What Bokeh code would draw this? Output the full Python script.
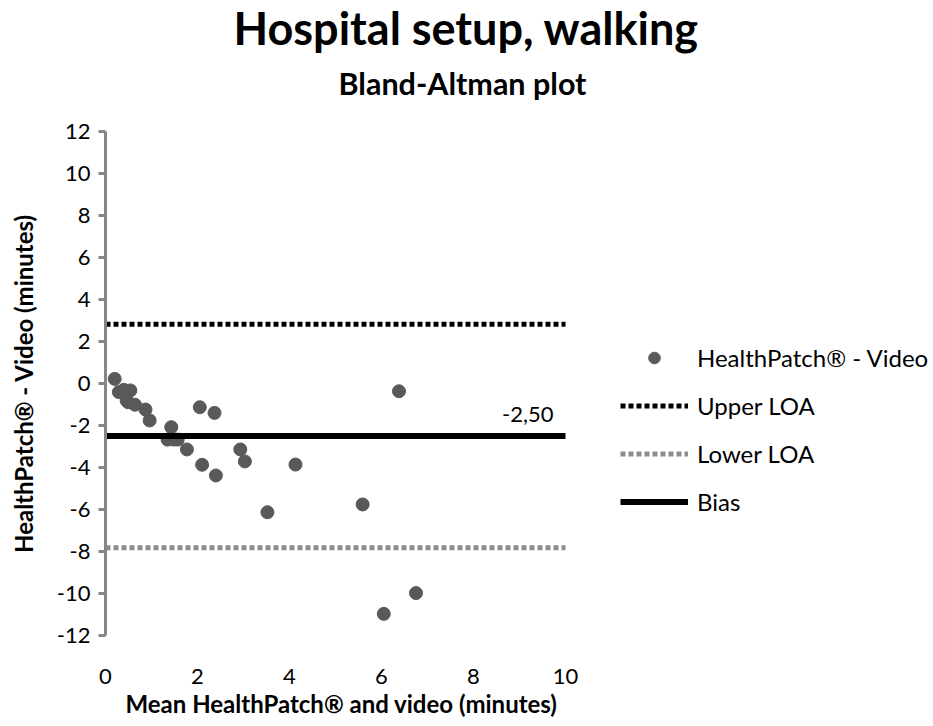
from bokeh.plotting import figure
from bokeh.models import Range1d, FixedTicker, Label, Legend, LegendItem, Title
from bokeh.embed import file_html
from bokeh.resources import INLINE

# ---------------- data ----------------
MEAN = [0.20, 0.29, 0.40, 0.54, 0.46, 0.49, 0.64, 0.87, 0.96, 1.43, 1.35, 1.48, 1.57,
        1.77, 2.05, 2.37, 2.10, 2.40, 2.93, 3.03, 4.13, 3.52, 5.59, 6.05, 6.75, 6.38]
DIFF = [0.22, -0.41, -0.30, -0.33, -0.81, -0.89, -1.01, -1.24, -1.76, -2.08, -2.67, -2.67, -2.67,
        -3.14, -1.13, -1.40, -3.87, -4.38, -3.14, -3.71, -3.86, -6.13, -5.76, -10.97, -9.98, -0.37]
BIAS = -2.50
UPPER_LOA = 2.82
LOWER_LOA = -7.82
X_LIMITS = [0, 10]
Y_LIMITS = [-12, 12]
X_TICKS = [0, 2, 4, 6, 8, 10]
Y_TICKS = [-12, -10, -8, -6, -4, -2, 0, 2, 4, 6, 8, 10, 12]
Y_TICK_LABELS = ["-12", "-10", "-8", "-6", "-4", "-2", "0", "2", "4", "6", "8", "10", "12"]
TITLE = "Hospital setup, walking"
SUBTITLE = "Bland-Altman plot"
X_LABEL = "Mean HealthPatch\u00ae and video (minutes)"
Y_LABEL = "HealthPatch\u00ae - Video (minutes)"
SERIES_NAMES = ["HealthPatch\u00ae - Video", "Upper LOA", "Lower LOA", "Bias"]

# ---------------- layout ----------------
FONT = "Lato"
W, H = 933, 726
FL, FT, FB = 105, 131, 635          # frame left / top / bottom (pixels)
X_END_PX = 565                      # pixel where x = X_LIMITS[1]
# the frame runs to the right edge so the legend can sit inside it
X_RANGE_END = X_LIMITS[0] + (X_LIMITS[1] - X_LIMITS[0]) * (W - FL) / (X_END_PX - FL)


def px_x(px):
    return X_LIMITS[0] + (px - FL) * (X_LIMITS[1] - X_LIMITS[0]) / (X_END_PX - FL)


def px_y(py):
    return Y_LIMITS[1] - (py - FT) * (Y_LIMITS[1] - Y_LIMITS[0]) / (FB - FT)


p = figure(width=W, height=H,
           x_range=Range1d(X_LIMITS[0], X_RANGE_END), y_range=Range1d(*Y_LIMITS),
           output_backend="svg", toolbar_location=None,
           min_border_left=FL, min_border_right=0,
           min_border_top=FT, min_border_bottom=H - FB)
p.xgrid.visible = False
p.ygrid.visible = False
p.outline_line_color = None
p.background_fill_color = "white"
p.border_fill_color = "white"

AXIS_GRAY = "#868686"

# y axis
p.yaxis.ticker = FixedTicker(ticks=Y_TICKS)
p.yaxis.major_label_overrides = {t: s for t, s in zip(Y_TICKS, Y_TICK_LABELS)}
p.yaxis.axis_line_color = AXIS_GRAY
p.yaxis.axis_line_width = 3
p.yaxis.major_tick_line_color = AXIS_GRAY
p.yaxis.major_tick_line_width = 3
p.yaxis.major_tick_out = 7
p.yaxis.major_tick_in = 0
p.yaxis.minor_tick_line_color = None
p.yaxis.major_label_standoff = 8
p.yaxis.major_label_text_font = FONT
p.yaxis.major_label_text_font_size = "22px"
p.yaxis.major_label_text_color = "black"
p.yaxis.axis_label = Y_LABEL
p.yaxis.axis_label_text_font = FONT
p.yaxis.axis_label_text_font_size = "24px"
p.yaxis.axis_label_text_font_style = "bold"
p.yaxis.axis_label_text_color = "black"
p.yaxis.axis_label_standoff = 16

# x axis (no line, no ticks, labels only)
p.xaxis.ticker = FixedTicker(ticks=X_TICKS)
p.xaxis.axis_line_color = None
p.xaxis.major_tick_line_color = None
p.xaxis.minor_tick_line_color = None
p.xaxis.major_tick_out = 0
p.xaxis.major_tick_in = 0
p.xaxis.major_label_standoff = 33
p.xaxis.major_label_text_font = FONT
p.xaxis.major_label_text_font_size = "22px"
p.xaxis.major_label_text_color = "black"

# x-axis title, left-aligned under the plotted x span
p.add_layout(Title(text=X_LABEL, align="left", offset=125 - FL, vertical_align="bottom",
                   text_font=FONT, text_font_size="24px", text_font_style="bold",
                   text_color="black", standoff=0), "below")

# ---------------- glyphs ----------------
r_pts = p.scatter(MEAN, DIFF, size=13, fill_color="#595959", line_color="#595959")
r_up = p.line(X_LIMITS, [UPPER_LOA] * 2, line_color="black", line_width=5, line_dash="5 3")
r_lo = p.line(X_LIMITS, [LOWER_LOA] * 2, line_color="#8c8c8c", line_width=5, line_dash="5 3")
r_bias = p.line(X_LIMITS, [BIAS] * 2, line_color="black", line_width=6)

# bias value label
p.add_layout(Label(x=px_x(553), y=px_y(414), text=f"{BIAS:.2f}".replace(".", ","),
                   text_align="right", text_baseline="alphabetic",
                   text_font=FONT, text_font_size="22px", text_color="black"))

# titles (first added sits closest to the plot area)
p.add_layout(Title(text=" ", text_font_size="10px", standoff=6), "above")   # spacer
p.add_layout(Title(text=SUBTITLE, align="left", offset=338 - FL, vertical_align="bottom",
                   text_font=FONT, text_font_size="30.5px", text_font_style="bold",
                   text_color="black", standoff=23), "above")
p.add_layout(Title(text=TITLE, align="left", offset=233 - FL, vertical_align="bottom",
                   text_font=FONT, text_font_size="45px", text_font_style="bold",
                   text_color="black", standoff=-7), "above")

# legend (inside the widened frame, right of the plotted x span)
legend = Legend(
    items=[LegendItem(label=SERIES_NAMES[0], renderers=[r_pts]),
           LegendItem(label=SERIES_NAMES[1], renderers=[r_up]),
           LegendItem(label=SERIES_NAMES[2], renderers=[r_lo]),
           LegendItem(label=SERIES_NAMES[3], renderers=[r_bias])],
    location=(620 - FL, FB - 516),
    padding=0, margin=0, border_line_color=None, background_fill_alpha=0,
    glyph_width=68, glyph_height=29, label_height=29, spacing=19, label_standoff=9,
    label_text_font=FONT, label_text_font_size="24px", label_text_color="black")
p.add_layout(legend, "center")

open("out.html", "w").write(file_html(p, INLINE))
